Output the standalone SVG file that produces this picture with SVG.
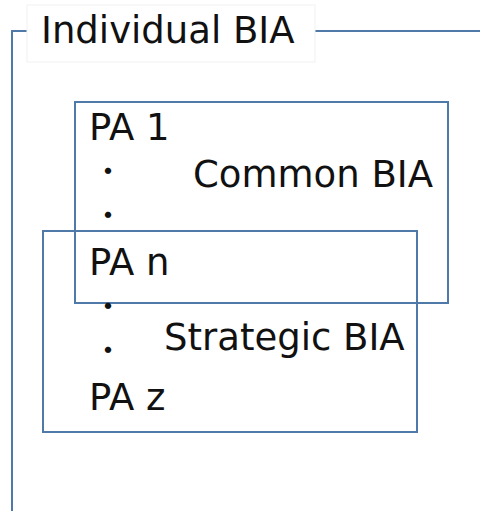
<svg xmlns="http://www.w3.org/2000/svg" width="480" height="511" viewBox="0 0 480 511">
  <style>
    .frame { fill: none; stroke: #4f79a8; stroke-width: 2; }
    .label { font-family: "DejaVu Sans", Verdana, sans-serif; font-size: 37px; fill: #111; }
    .dot { font-family: "Noto Sans CJK JP", "DejaVu Sans", sans-serif; font-size: 30px; fill: #111; text-anchor: middle; }
  </style>
  <rect width="480" height="511" fill="#fff"/>

  <!-- outer group frame with its caption -->
  <g id="individual-bia">
    <path class="frame" d="M27,31 H12 V511 M315,31 H480"/>
    <rect x="27" y="5" width="288" height="57" fill="#fff" stroke="#f1f1f1" stroke-width="1"/>
    <text class="label" x="41" y="43">Individual BIA</text>
  </g>

  <!-- common BIA box -->
  <g id="common-bia">
    <rect class="frame" x="75" y="102" width="373" height="201"/>
    <text class="label" x="193" y="187">Common BIA</text>
  </g>

  <!-- strategic BIA box -->
  <g id="strategic-bia">
    <rect class="frame" x="43" y="231" width="374" height="201"/>
    <text class="label" x="164" y="350">Strategic BIA</text>
  </g>

  <!-- process list -->
  <g id="pa-list">
    <text class="label" x="89" y="140">PA 1</text>
    <text class="dot" x="108" y="182">・</text>
    <text class="dot" x="108" y="226">・</text>
    <text class="label" x="89" y="275">PA n</text>
    <text class="dot" x="108" y="317">・</text>
    <text class="dot" x="108" y="361">・</text>
    <text class="label" x="89" y="410">PA z</text>
  </g>
</svg>
